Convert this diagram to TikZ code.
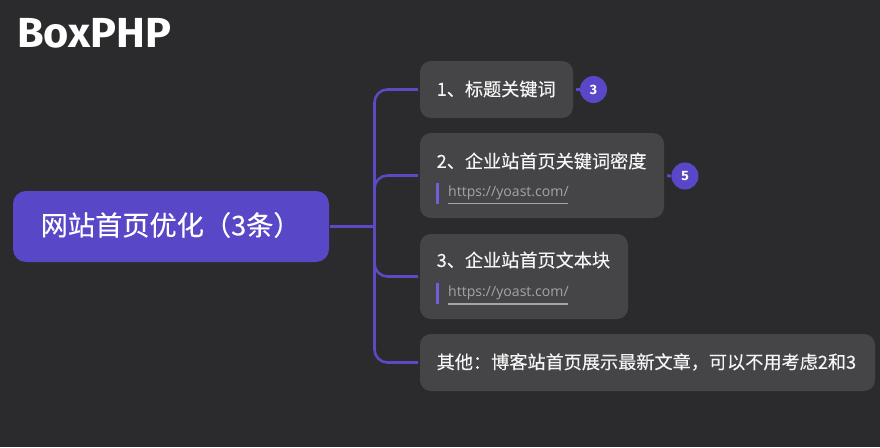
\documentclass[tikz,border=0pt]{standalone}
\usepackage{fontspec}
\setmainfont{Noto Sans CJK SC}[FakeBold=0.25]
\newfontfamily\urlfont{Open Sans}
\newfontfamily\logofont{Fira Sans}[BoldFont={Fira Sans Bold},FakeStretch=1.03]
\definecolor{bgc}{HTML}{2B2B2D}
\definecolor{boxc}{HTML}{454548}
\definecolor{rootc}{HTML}{5848C8}
\definecolor{linec}{HTML}{5A4BC4}
\definecolor{barc}{HTML}{6E60D8}
\definecolor{urlc}{HTML}{A4A4A6}
\tikzset{
  x=1pt,y=-1pt,
  item/.style={fill=boxc,rounded corners=11pt,anchor=north west,inner sep=0pt,outer sep=0pt},
  rootbox/.style={fill=rootc,rounded corners=13pt,anchor=north west,inner sep=0pt,outer sep=0pt},
  itemtext/.style={anchor=west,inner sep=0pt,text=white!96!black,font=\fontsize{18.15}{22}\selectfont},
  roottext/.style={anchor=west,inner sep=0pt,text=white,font=\fontsize{27.2}{32}\selectfont},
  urltext/.style={anchor=west,inner sep=0pt,text=urlc,font=\urlfont\fontsize{14.1}{18}\selectfont},
  badge/.style={circle,fill=rootc,minimum size=27pt,inner sep=0pt,text=white,font=\logofont\bfseries\fontsize{13.5}{15}\selectfont},
  conn/.style={draw=linec,line width=2.6pt,rounded corners=13pt},
  stub/.style={draw=linec,line width=2.8pt},
  urlbar/.style={draw=barc,line width=3pt},
  urlline/.style={draw=urlc,line width=1.2pt},
}
\begin{document}
\begin{tikzpicture}
\useasboundingbox[fill=bgc] (0,0) rectangle (880,447);
\node[anchor=west,inner sep=0pt,text=white,font=\logofont\bfseries\fontsize{42}{46}\selectfont] (logo) at (17,33) {BoxPHP};
% boxes
\node[rootbox,minimum width=316pt,minimum height=71pt] (root) at (13,191) {};
\node[item,minimum width=153pt,minimum height=57pt] (b1) at (420,61) {};
\node[item,minimum width=244pt,minimum height=85pt] (b2) at (420,133) {};
\node[item,minimum width=208pt,minimum height=85pt] (b3) at (420,234) {};
\node[item,minimum width=455pt,minimum height=57pt] (b4) at (420,334) {};
% texts
\node[roottext] (roott) at (40.5,225) {网站首页优化（3条）};
\node[itemtext] (t1) at (436.5,89) {1、标题关键词};
\node[itemtext] (t2) at (436.5,161) {2、企业站首页关键词密度};
\node[urltext] (u2) at (448,193) {https://yoast.com/};
\node[itemtext] (t3) at (436.5,260) {3、企业站首页文本块};
\node[urltext] (u3) at (448,293) {https://yoast.com/};
\node[itemtext] (t4) at (436.5,362) {其他：博客站首页展示最新文章，可以不用考虑2和3};
% url decoration
\draw[urlbar] (437.5,183) -- (437.5,204);
\draw[urlline] (448,203.5) -- (568,203.5);
\draw[urlbar] (437.5,283) -- (437.5,304);
\draw[urlline] (448,304) -- (568,304);
% connectors
\coordinate (hub) at (374.5,226.5);
\draw[stub,shorten <=1pt] (root.east |- hub) -- (hub);
\draw[conn,shorten >=2pt] (hub) |- (b1.west);
\draw[conn,shorten >=2pt] (hub) |- (b2.west);
\draw[conn,shorten >=2pt] (hub) |- (b3.west);
\draw[conn,shorten >=2pt] (hub) |- (b4.west);
% badges
\node[badge] (n3) at (593.5,89.5) {3};
\node[badge] (n5) at (685,176) {5};
\draw[stub,shorten <=3pt] (b1.east) -- (n3.west);
\draw[stub,shorten <=3pt] (b2.east) -- (n5.west);
\end{tikzpicture}
\end{document}
